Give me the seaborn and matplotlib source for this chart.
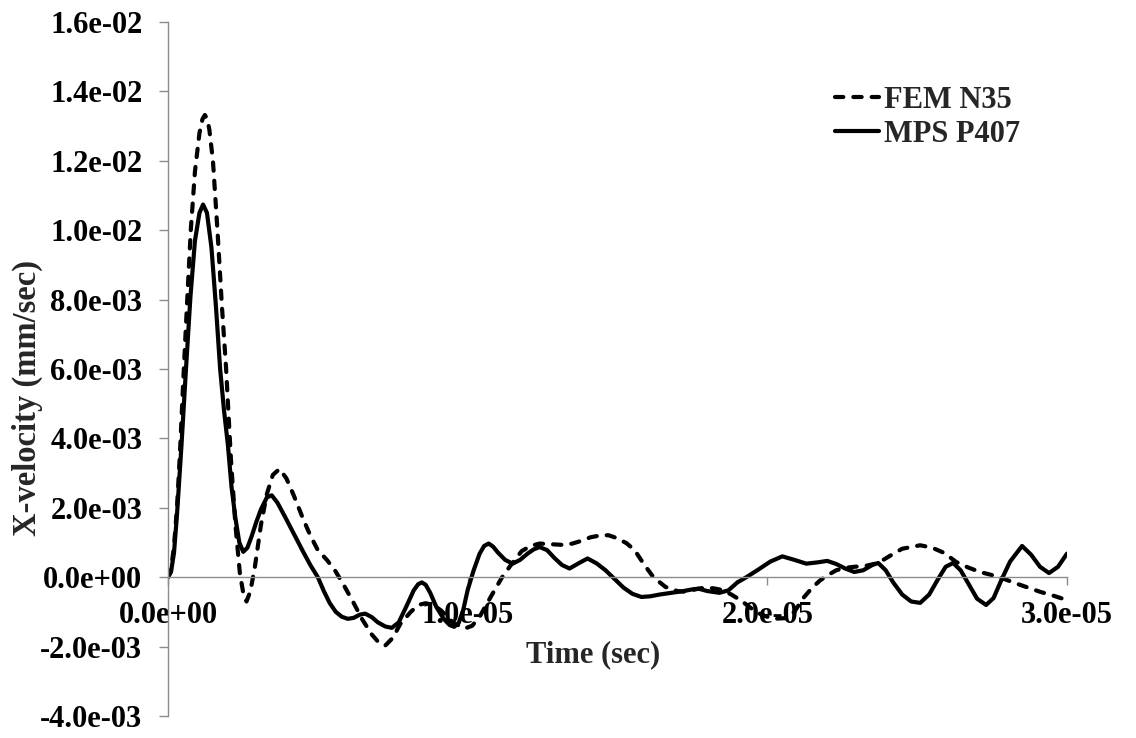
import numpy as np
import pandas as pd
import matplotlib
matplotlib.use("Agg")
import matplotlib.pyplot as plt
import matplotlib.ticker as mticker
import seaborn as sns

# ---- data (time in microseconds, velocity in 1e-3 mm/sec) ----
fem_t = [0.0, 0.1, 0.2, 0.3, 0.4, 0.5, 0.63, 0.76, 0.9, 1.05, 1.15, 1.23, 1.31, 1.38, 1.5, 1.65, 1.8,
         1.94, 2.1, 2.25, 2.4, 2.52, 2.62, 2.75, 2.9, 3.1, 3.3, 3.5, 3.72, 3.95, 4.2, 4.5,
         4.75, 5.0, 5.3, 5.57, 5.9, 6.2, 6.47, 6.8, 7.05, 7.25, 7.5, 7.75, 8.1, 8.35, 8.6,
         8.85, 9.1, 9.5, 9.9, 10.15, 10.4, 10.65, 10.9, 11.15, 11.4, 11.8, 12.1, 12.4, 12.8,
         13.2, 13.5, 13.8, 14.1, 14.4, 14.7, 15.0, 15.3, 15.57, 15.9, 16.2, 16.6, 17.0, 17.3,
         17.6, 17.9, 18.2, 18.5, 18.8, 19.1, 19.5, 19.8, 20.2, 20.6, 20.9, 21.2, 21.5, 21.75,
         22.0, 22.3, 22.6, 22.9, 23.3, 23.7, 24.1, 24.5, 25.1, 25.5, 25.9, 26.3, 26.7, 27.1,
         27.5, 27.9, 28.3, 28.7, 29.1, 29.5, 30.0]
fem_v = [0.0, 0.2, 0.9, 2.0, 3.6, 5.5, 7.8, 10.0, 11.7, 12.8, 13.2, 13.32, 13.2, 12.9, 12.0, 10.0, 7.8,
         6.0, 3.4, 1.5, 0.1, -0.5, -0.7, -0.4, 0.3, 1.5, 2.4, 2.95, 3.12, 2.85, 2.35, 1.7,
         1.2, 0.78, 0.5, 0.2, -0.28, -0.75, -1.2, -1.65, -1.9, -1.97, -1.75, -1.35, -1.0, -0.8, -0.75,
         -0.8, -0.95, -1.3, -1.48, -1.4, -1.14, -0.75, -0.37, 0.0, 0.3, 0.75, 0.9, 0.97, 0.95,
         0.93, 0.97, 1.05, 1.15, 1.2, 1.21, 1.12, 0.98, 0.78, 0.35, 0.0, -0.28, -0.4, -0.42,
         -0.35, -0.3, -0.32, -0.37, -0.5, -0.66, -0.92, -1.08, -1.2, -1.18, -1.0, -0.6, -0.3, -0.1,
         0.05, 0.2, 0.27, 0.3, 0.33, 0.41, 0.62, 0.82, 0.92, 0.85, 0.7, 0.44, 0.28, 0.15,
         0.06, -0.05, -0.18, -0.3, -0.42, -0.52, -0.66]

mps_t = [0.0, 0.1, 0.2, 0.3, 0.45, 0.6, 0.75, 0.9, 1.05, 1.17, 1.3, 1.45, 1.6, 1.74, 1.87,
         2.0, 2.12, 2.25, 2.38, 2.51, 2.65, 2.8, 2.95, 3.1, 3.3, 3.46, 3.65, 3.9, 4.2, 4.5,
         4.75, 5.0, 5.2, 5.4, 5.6, 5.8, 6.0, 6.2, 6.4, 6.58, 6.8, 7.0, 7.25, 7.47, 7.7,
         7.95, 8.2, 8.35, 8.47, 8.6, 8.75, 8.95, 9.2, 9.4, 9.55, 9.7, 9.85, 10.0, 10.2, 10.4, 10.55, 10.7,
         10.85, 11.0, 11.25, 11.5, 11.75, 12.0, 12.2, 12.4, 12.65, 12.9, 13.15, 13.4, 13.7, 14.0,
         14.3, 14.6, 14.9, 15.2, 15.5, 15.8, 16.1, 16.4, 16.8, 17.2, 17.5, 17.7, 18.0, 18.4,
         18.7, 19.0, 19.3, 19.7, 20.1, 20.5, 20.9, 21.3, 21.7, 22.0, 22.3, 22.6, 22.9, 23.2,
         23.5, 23.7, 23.95, 24.2, 24.5, 24.8, 25.1, 25.4, 25.7, 25.95, 26.2, 26.45, 26.75, 27.0,
         27.3, 27.55, 27.8, 28.1, 28.5, 28.8, 29.1, 29.4, 29.7, 30.0]
mps_v = [0.0, 0.15, 0.7, 1.8, 3.8, 6.0, 8.1, 9.7, 10.5, 10.74, 10.5, 9.5, 7.8, 6.0, 4.8,
         3.8, 2.6, 1.7, 1.0, 0.73, 0.85, 1.2, 1.6, 1.95, 2.3, 2.36, 2.15, 1.75, 1.25, 0.75,
         0.35, 0.0, -0.4, -0.75, -1.0, -1.14, -1.2, -1.17, -1.08, -1.05, -1.15, -1.3, -1.42, -1.46, -1.3,
         -0.85, -0.38, -0.2, -0.15, -0.22, -0.45, -0.85, -1.2, -1.38, -1.43, -1.32, -0.95, -0.37, 0.2, 0.68, 0.9, 0.97,
         0.88, 0.72, 0.5, 0.39, 0.5, 0.68, 0.8, 0.87, 0.78, 0.55, 0.35, 0.25, 0.4, 0.54,
         0.4, 0.2, -0.05, -0.3, -0.48, -0.57, -0.55, -0.5, -0.45, -0.4, -0.35, -0.33, -0.4, -0.45,
         -0.38, -0.15, 0.0, 0.22, 0.45, 0.6, 0.5, 0.39, 0.43, 0.47, 0.38, 0.25, 0.15, 0.2,
         0.35, 0.41, 0.2, -0.15, -0.5, -0.7, -0.74, -0.5, -0.05, 0.3, 0.41, 0.2, -0.25, -0.62,
         -0.8, -0.6, -0.1, 0.45, 0.9, 0.65, 0.3, 0.12, 0.3, 0.68]

series_labels = ["FEM N35", "MPS P407"]
x_ticks = [0.0, 1.0e-5, 2.0e-5, 3.0e-5]
y_ticks = [-4e-3, -2e-3, 0.0, 2e-3, 4e-3, 6e-3, 8e-3, 10e-3, 12e-3, 14e-3, 16e-3]
x_label = "Time (sec)"
y_label = "X-velocity (mm/sec)"

# unit conversion to seconds and mm/sec
fem_df = pd.DataFrame({"t": np.array(fem_t) * 1e-6, "v": np.array(fem_v) * 1e-3})
mps_df = pd.DataFrame({"t": np.array(mps_t) * 1e-6, "v": np.array(mps_v) * 1e-3})

sns.set_theme(style="white")
plt.rcParams["font.family"] = ["Liberation Serif", "DejaVu Serif"]
plt.rcParams["font.weight"] = "bold"

W, H = 1136, 738
fig = plt.figure(figsize=(W / 100, H / 100), dpi=100)
fig.patch.set_facecolor("white")
ax = fig.add_axes([168 / W, 1 - 716 / H, (1067 - 168) / W, (716 - 22) / H])
ax.set_facecolor("white")

sns.lineplot(data=fem_df, x="t", y="v", ax=ax, color="black", lw=3.0,
             linestyle=(0, (2.0, 2.4)), dash_capstyle="round", solid_capstyle="round",
             sort=False, estimator=None, label=series_labels[0])
sns.lineplot(data=mps_df, x="t", y="v", ax=ax, color="black", lw=3.0,
             solid_joinstyle="round", solid_capstyle="round",
             sort=False, estimator=None, label=series_labels[1])

ax.set_xlim(0, 3.0e-5)
ax.set_ylim(-4e-3, 1.6e-2)
ax.set_xticks(x_ticks)
ax.set_yticks(y_ticks)
ax.xaxis.set_major_formatter(mticker.FormatStrFormatter("%.1e"))
ax.yaxis.set_major_formatter(mticker.FormatStrFormatter("%.1e"))

for s in ["top", "right"]:
    ax.spines[s].set_visible(False)
ax.spines["bottom"].set_position(("data", 0))
for s in ["left", "bottom"]:
    ax.spines[s].set_color("#8c8c8c")
    ax.spines[s].set_linewidth(1.0)

ax.tick_params(axis="y", direction="out", length=6.5, width=1.0, color="#8c8c8c",
               pad=12, labelsize=22, labelcolor="black", left=True)
ax.tick_params(axis="x", direction="out", length=6.0, width=1.0, color="#8c8c8c",
               pad=11, labelsize=22, labelcolor="black", bottom=True)
for lab in ax.get_xticklabels() + ax.get_yticklabels():
    lab.set_fontweight("bold")

ax.set_xlabel(x_label, fontsize=22, fontweight="bold")
ax.set_ylabel(y_label, fontsize=23.5, fontweight="bold")
ax.xaxis.set_label_coords(0.473, 0.109)
ax.yaxis.set_label_coords(-0.139, 0.458)

leg = ax.legend(loc="upper left", bbox_to_anchor=(835 / W, 1 - 86 / H),
                bbox_transform=fig.transFigure, frameon=False, fontsize=22,
                handlelength=1.45, handletextpad=0.15, labelspacing=0.15,
                borderpad=0, borderaxespad=0)
for t in leg.get_texts():
    t.set_fontweight("bold")

fig.savefig("out.png", dpi=100, facecolor="white")
